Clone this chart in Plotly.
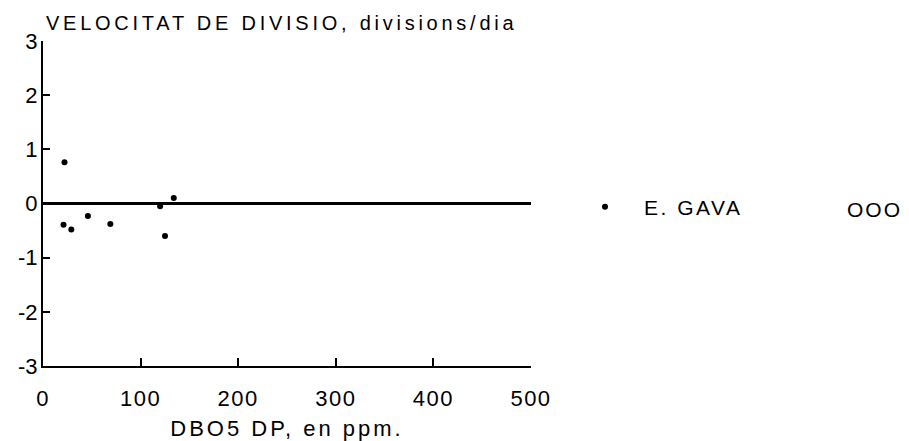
import plotly.graph_objects as go

# Data
dbo5_ppm = [22, 21, 29, 46, 69, 125, 134, 120]
velocitat = [0.76, -0.39, -0.48, -0.23, -0.38, -0.60, 0.10, -0.05]

x_tickvals = [0, 100, 200, 300, 400, 500]
x_ticktext = ["0", "100", "200", "300", "400", "500"]
y_tickvals = [-3, -2, -1, 0, 1, 2, 3]
y_ticktext = ["-3", "-2", "-1", "0", "1", "2", "3"]

title_text = "VELOCITAT DE DIVISIO, divisions/dia"
x_title = "DBO5 DP, en ppm."
series_name = "E. GAVA"
extra_label = "OOO"

FONT = "Liberation Sans, Arial, sans-serif"


def spaced(s, px):
    return f'<span style="letter-spacing:{px}px">{s}</span>'


fig = go.Figure()
fig.add_trace(go.Scatter(
    x=dbo5_ppm, y=velocitat, mode="markers",
    marker=dict(color="black", size=6),
    name=spaced(series_name, 2.5),
))

fig.update_layout(
    width=909, height=441,
    margin=dict(l=43, r=378, t=41, b=75),
    paper_bgcolor="white", plot_bgcolor="white",
    font=dict(family=FONT, color="black", size=21),
    title=dict(
        text=spaced(title_text, 3.75),
        xref="container", yref="container",
        x=46 / 909, xanchor="left",
        y=1 - 23 / 441, yanchor="middle",
        font=dict(size=20, family=FONT, color="black"),
    ),
    showlegend=True,
    legend=dict(
        x=(566 - 43) / 488, xanchor="left",
        y=(366 - 207) / 325, yanchor="middle",
        itemwidth=68,
        font=dict(size=21, family=FONT, color="black"),
        bgcolor="rgba(0,0,0,0)",
    ),
    xaxis=dict(
        range=[0, 500], showgrid=False, zeroline=False, automargin=False,
        showline=True, linecolor="black", linewidth=2,
        ticks="inside", ticklen=8, tickwidth=2, tickcolor="black",
        tickvals=x_tickvals, ticktext=[spaced(t, 1.5) for t in x_ticktext],
        tickfont=dict(size=22, family=FONT, color="black"),
        ticklabelstandoff=12,
        title=dict(text=spaced(x_title, 3), standoff=10,
                   font=dict(size=22, family=FONT, color="black")),
    ),
    yaxis=dict(
        range=[-3, 3], showgrid=False, automargin=False,
        zeroline=True, zerolinecolor="black", zerolinewidth=2.5,
        showline=True, linecolor="black", linewidth=2,
        ticks="inside", ticklen=7, tickwidth=2, tickcolor="black",
        tickvals=y_tickvals, ticktext=y_ticktext,
        tickfont=dict(size=22, family=FONT, color="black"),
        ticklabelstandoff=-1,
    ),
    annotations=[dict(
        text=spaced(extra_label, 2), xref="paper", yref="paper",
        x=(874.5 - 43) / 488, y=(366 - 209) / 325,
        xanchor="center", yanchor="middle", showarrow=False,
        font=dict(size=21, family=FONT, color="black"),
    )],
)

fig.write_html("out.html")
